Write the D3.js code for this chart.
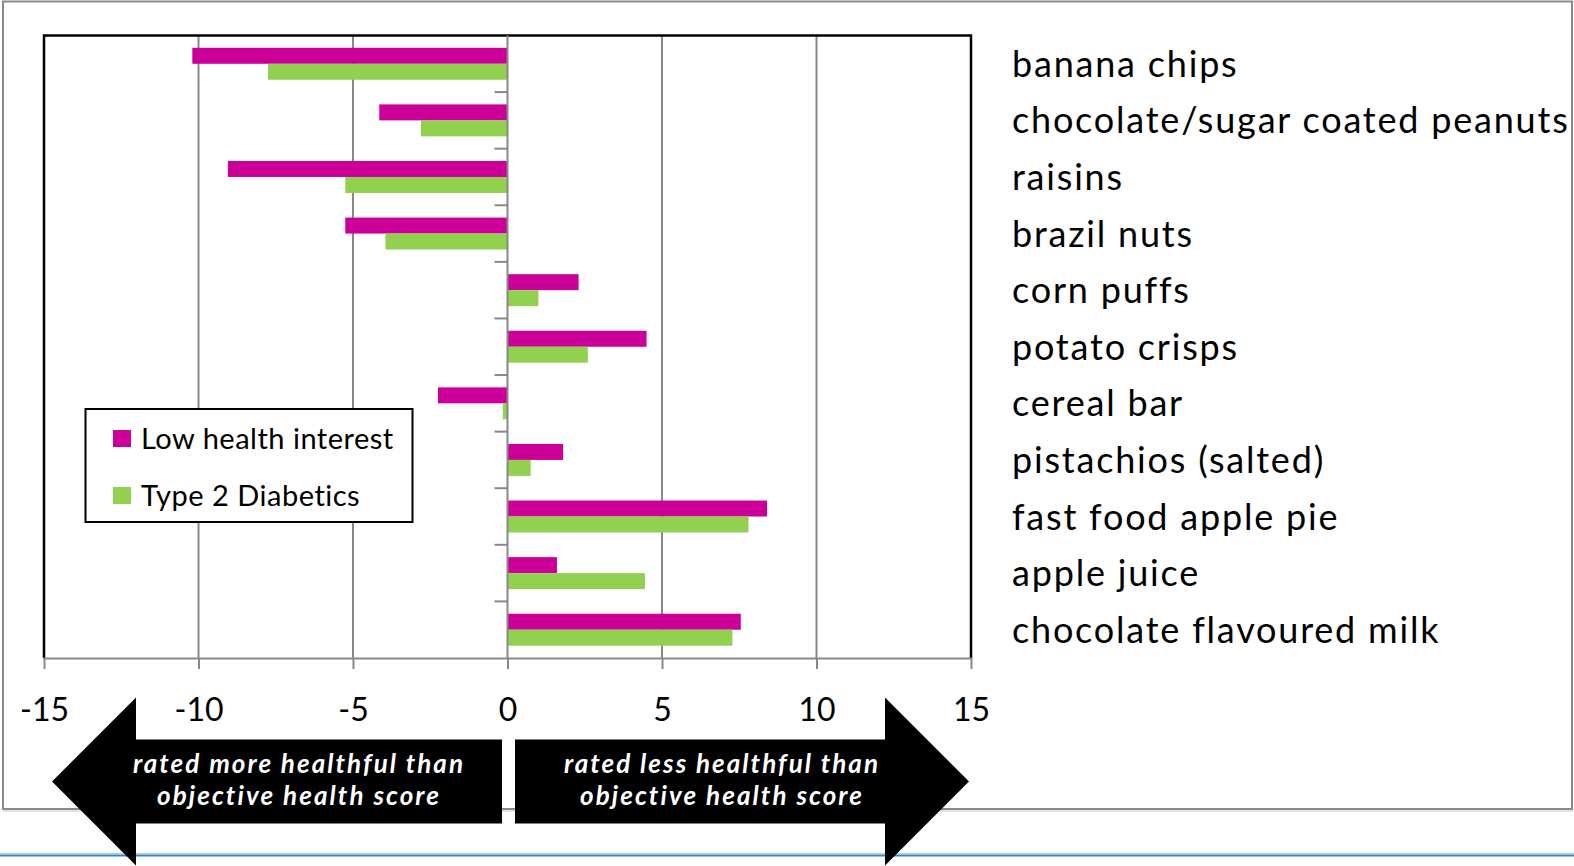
<!DOCTYPE html>
<html>
<head>
<meta charset="utf-8">
<script src="https://cdn.jsdelivr.net/npm/d3@7"></script>
<style>
  html, body { margin: 0; padding: 0; background: #ffffff; }
  svg { display: block; }
  text { font-family: Lato, "Open Sans", "DejaVu Sans", sans-serif; font-variant-ligatures: none; }
</style>
</head>
<body>
<svg id="chart" width="1574" height="866"></svg>
<script>
// Food items, top to bottom
const categories = [
  "banana chips",
  "chocolate/sugar coated peanuts",
  "raisins",
  "brazil nuts",
  "corn puffs",
  "potato crisps",
  "cereal bar",
  "pistachios (salted)",
  "fast food apple pie",
  "apple juice",
  "chocolate flavoured milk"
];

// Difference between perceived and objective health score
const lowHealthInterest = [-10.2, -4.15, -9.05, -5.25, 2.3, 4.5, -2.25, 1.8, 8.4, 1.6, 7.55];
const type2Diabetics    = [-7.75, -2.8, -5.25, -3.95, 1.0, 2.6, -0.15, 0.75, 7.8, 4.45, 7.28];

const seriesNames = ["Low health interest", "Type 2 Diabetics"];
const seriesColors = ["#CC0099", "#92D050"];
const xTicks = [-15, -10, -5, 0, 5, 10, 15];

const arrowLabels = {
  left: ["rated more healthful than", "objective health score"],
  right: ["rated less healthful than", "objective health score"]
};

const series = [lowHealthInterest, type2Diabetics];

const svg = d3.select("#chart");

// Outer frame and the rule below it
svg.append("line")
  .attr("x1", 0).attr("x2", 1574).attr("y1", 853.5).attr("y2", 853.5)
  .attr("stroke", "#a9d0ef").attr("stroke-width", 1);
svg.append("line")
  .attr("x1", 0).attr("x2", 1574).attr("y1", 855.5).attr("y2", 855.5)
  .attr("stroke", "#2a86d0").attr("stroke-width", 2.2);
svg.append("line")
  .attr("x1", 3).attr("x2", 1573).attr("y1", 811).attr("y2", 811)
  .attr("stroke", "#e2e2e2").attr("stroke-width", 2);
svg.append("rect")
  .attr("x", 3).attr("y", 1.5).attr("width", 1569).attr("height", 807.5)
  .attr("fill", "none").attr("stroke", "#8a8a8a").attr("stroke-width", 2);

// Plot area
const plot = { left: 44, right: 971, top: 35.5, bottom: 658 };

const x = d3.scaleLinear()
  .domain([-15, 15])
  .range([plot.left, plot.right]);

const y = d3.scaleBand()
  .domain(categories)
  .range([plot.top, plot.bottom])
  .padding(0);

const ySeries = d3.scaleBand()
  .domain(d3.range(series.length))
  .range([0, y.bandwidth()])
  .paddingInner(0)
  .paddingOuter(0.77);

const g = svg.append("g");

// Vertical gridlines
g.append("g")
  .selectAll("line")
  .data(xTicks.filter(t => Math.abs(t) !== 15 && t !== 0))
  .join("line")
  .attr("x1", d => x(d)).attr("x2", d => x(d))
  .attr("y1", plot.top).attr("y2", plot.bottom)
  .attr("stroke", "#888888").attr("stroke-width", 2);

// Plot area border (top, left, right)
g.append("path")
  .attr("d", `M${plot.left},${plot.bottom} V${plot.top} H${plot.right} V${plot.bottom}`)
  .attr("fill", "none").attr("stroke", "#000").attr("stroke-width", 2.5);

// Bars
const rows = categories.map((c, i) => ({ c, vals: series.map(s => s[i]) }));
g.append("g")
  .selectAll("g")
  .data(rows)
  .join("g")
  .attr("transform", d => `translate(0,${y(d.c)})`)
  .selectAll("rect")
  .data(d => d.vals.map((v, k) => ({ v, k })))
  .join("rect")
  .attr("x", d => x(Math.min(0, d.v)))
  .attr("width", d => Math.abs(x(d.v) - x(0)))
  .attr("y", d => ySeries(d.k))
  .attr("height", ySeries.bandwidth())
  .attr("fill", d => seriesColors[d.k]);

// Category axis at zero with ticks on band boundaries
const catBoundaries = d3.range(categories.length + 1).map(i => plot.top + i * y.step());
g.append("line")
  .attr("x1", x(0)).attr("x2", x(0))
  .attr("y1", plot.top).attr("y2", plot.bottom)
  .attr("stroke", "#888888").attr("stroke-width", 2);
g.append("g")
  .selectAll("line")
  .data(catBoundaries.slice(1, -1))
  .join("line")
  .attr("x1", x(0) - 13).attr("x2", x(0))
  .attr("y1", d => d).attr("y2", d => d)
  .attr("stroke", "#888888").attr("stroke-width", 2);

// Value axis
const xAxis = d3.axisBottom(x)
  .tickValues(xTicks)
  .tickSize(11)
  .tickPadding(29)
  .tickFormat(d3.format("d"));

const axisG = g.append("g")
  .attr("transform", `translate(0,${plot.bottom})`)
  .call(xAxis);
axisG.select(".domain")
  .attr("d", `M${plot.left - 1},0.5H${plot.right + 1}`)
  .attr("stroke", "#888888").attr("stroke-width", 2);
axisG.selectAll(".tick line")
  .attr("stroke", "#888888").attr("stroke-width", 2);
axisG.selectAll(".tick text")
  .text(d => (d < 0 ? "-" + Math.abs(d) : d))
  .attr("font-size", 32)
  .attr("font-family", "Lato, 'Open Sans', sans-serif")
  .attr("fill", "#000");

// Category labels to the right of the plot
g.append("g")
  .selectAll("text")
  .data(categories)
  .join("text")
  .attr("x", 1012)
  .attr("y", d => y(d) + y.bandwidth() / 2 + 13)
  .attr("font-size", 36)
  .attr("letter-spacing", 1.8)
  .attr("fill", "#000")
  .text(d => d);

// Legend
const legend = svg.append("g");
legend.append("rect")
  .attr("x", 85.5).attr("y", 409).attr("width", 327).attr("height", 113)
  .attr("fill", "#fff").attr("stroke", "#000").attr("stroke-width", 2);
const legendItems = legend.selectAll("g")
  .data(seriesNames)
  .join("g")
  .attr("transform", (d, i) => `translate(113,${430 + i * 57})`);
legendItems.append("rect")
  .attr("width", 18).attr("height", 17)
  .attr("fill", (d, i) => seriesColors[i]);
legendItems.append("text")
  .attr("x", 28).attr("y", 19)
  .attr("font-size", 29)
  .attr("letter-spacing", 0.5)
  .attr("fill", "#000")
  .text(d => d);

// Direction arrows under the value axis
const arrow = { midY: 781.5, shaftHalf: 42, headHalf: 84, headLen: 84 };
function arrowPath(tipX, baseX, endX) {
  const dir = Math.sign(baseX - tipX);
  const headX = tipX + dir * arrow.headLen;
  const yc = arrow.midY;
  return [
    [tipX, yc],
    [headX, yc - arrow.headHalf],
    [headX, yc - arrow.shaftHalf],
    [endX, yc - arrow.shaftHalf],
    [endX, yc + arrow.shaftHalf],
    [headX, yc + arrow.shaftHalf],
    [headX, yc + arrow.headHalf]
  ];
}
const line = d3.line();
const arrows = [
  { pts: arrowPath(52, 136, 502), cx: 298, lines: arrowLabels.left, widths: [330, 282] },
  { pts: arrowPath(969, 884, 515), cx: 721, lines: arrowLabels.right, widths: [314, 282] }
];
const arrowG = svg.append("g").selectAll("g").data(arrows).join("g");
arrowG.append("path")
  .attr("d", d => line(d.pts) + "Z")
  .attr("fill", "#000");
arrowG.each(function (d) {
  const sel = d3.select(this);
  d.lines.forEach((t, i) => {
    sel.append("text")
      .attr("x", d.cx)
      .attr("y", 773 + i * 32)
      .attr("text-anchor", "middle")
      .attr("font-size", 26)
      .attr("font-weight", "bold")
      .attr("font-style", "italic")
      .attr("fill", "#fff")
      .attr("textLength", d.widths[i])
      .attr("lengthAdjust", "spacing")
      .text(t);
  });
});
</script>
</body>
</html>
